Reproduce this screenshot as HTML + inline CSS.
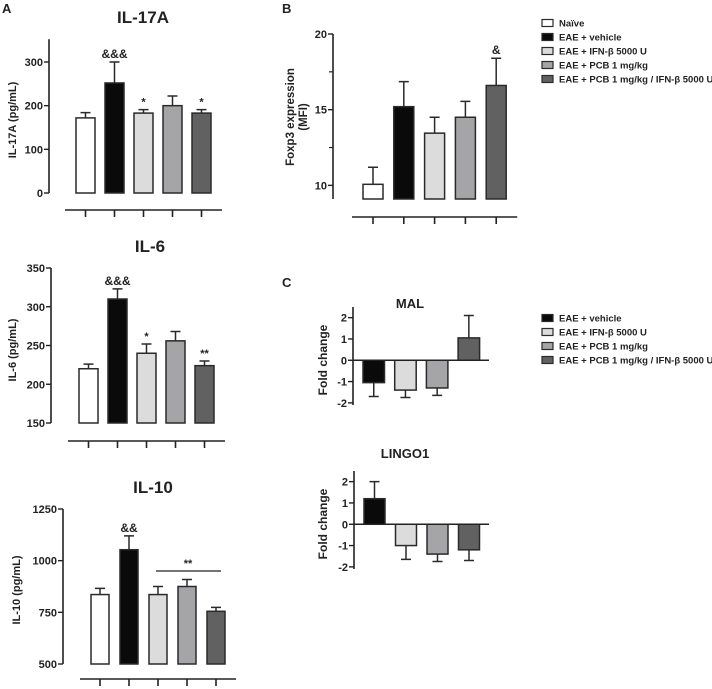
<!DOCTYPE html>
<html><head><meta charset="utf-8">
<style>
html,body{margin:0;padding:0;background:#fff;}
svg{display:block;font-family:"Liberation Sans",Arial,sans-serif;}
.t{font-weight:bold;fill:#222;}
</style></head>
<body>
<svg id="fig" width="712" height="689" viewBox="0 0 712 689" xmlns="http://www.w3.org/2000/svg">
<text class="t" x="2" y="13" font-size="13">A</text>
<text class="t" x="282" y="13" font-size="13">B</text>
<text class="t" x="282" y="287" font-size="13">C</text>
</svg>
<script>
const colors = ['#ffffff','#0a0a0a','#dcdcdc','#a5a5a7','#606160'];
const legendB = ['Naïve','EAE + vehicle','EAE + IFN-β 5000 U','EAE + PCB 1 mg/kg','EAE + PCB 1 mg/kg / IFN-β 5000 U'];
const legendC = ['EAE + vehicle','EAE + IFN-β 5000 U','EAE + PCB 1 mg/kg','EAE + PCB 1 mg/kg / IFN-β 5000 U'];

const il17Values = [172, 252, 183, 200, 183];
const il17Errors = [12, 48, 8, 22, 8];
const il17Ticks = [0, 100, 200, 300];
const il17Marks = ['', '&&&', '*', '', '*'];

const il6Values = [220, 310, 240, 256, 224];
const il6Errors = [6, 13, 12, 12, 6];
const il6Ticks = [150, 200, 250, 300, 350];
const il6Marks = ['', '&&&', '*', '', '**'];

const il10Values = [836, 1053, 836, 875, 755];
const il10Errors = [30, 67, 39, 34, 19];
const il10Ticks = [500, 750, 1000, 1250];
const il10Marks = ['', '&&', '', '', ''];

const foxValues = [10.07, 15.2, 13.45, 14.5, 16.6];
const foxErrors = [1.13, 1.65, 1.05, 1.05, 1.8];
const foxTicks = [10, 15, 20];
const foxMarks = ['', '', '', '', '&'];

const malValues = [-1.05, -1.4, -1.3, 1.05];
const malErrors = [0.65, 0.35, 0.35, 1.05];
const lingoValues = [1.2, -1.0, -1.4, -1.2];
const lingoErrors = [0.8, 0.65, 0.35, 0.5];
const foldTicks = [-2, -1, 0, 1, 2];

const svg = document.getElementById('fig');
const NS = 'http://www.w3.org/2000/svg';
function mk(tag, attrs, parent) {
  const e = document.createElementNS(NS, tag);
  for (const k in attrs) e.setAttribute(k, attrs[k]);
  (parent || svg).appendChild(e);
  return e;
}

function panel(p) {
  const g = mk('g', {});
  
  
  const y = v => p.y0 + (v - p.min) / (p.max - p.min) * (p.y1 - p.y0);
  const base = p.baseline !== undefined ? p.baseline : p.min;
  // title
  const title = mk('text', {x: p.titleX, y: p.titleY, 'font-size': p.titleSize, 'text-anchor': 'middle', class: 't'}, g);
  title.textContent = p.title;
  
  
  // y axis
  const ax = mk('line', {x1: p.ax, x2: p.ax, y1: y(p.axTop), y2: y(p.min), stroke: '#222', 'stroke-width': 1.6}, g);
  
  
  p.ticks.forEach(t => {
    mk('line', {x1: p.ax - 5, x2: p.ax, y1: y(t), y2: y(t), stroke: '#222', 'stroke-width': 1.4}, g);
    const tl = mk('text', {x: p.ax - 6, y: y(t) + 4, 'font-size': 11, 'text-anchor': 'end', class: 't'}, g);
    tl.textContent = t;
    
    
  });
  (p.minor || []).forEach(t => mk('line', {x1: p.ax - 4, x2: p.ax, y1: y(t), y2: y(t), stroke: '#222', 'stroke-width': 1.2}, g));
  // y title
  const yt = mk('text', {transform: `translate(${p.ytX},${p.ytY}) rotate(-90)`, 'font-size': p.ytSize || 11, 'text-anchor': 'middle', class: 't'}, g);
  p.yTitle.forEach((line, i) => {
    const ts = mk('tspan', {x: 0, dy: i === 0 ? 0 : 13}, yt);
    ts.textContent = line;
  });
  
  
  // bars
  p.values.forEach((v, i) => {
    const x = p.bx + i * p.pitch;
    const cx = x + p.bw / 2;
    const top = Math.min(y(v), y(base)), h = Math.abs(y(v) - y(base));
    const r = mk('rect', {x: x, y: top, width: p.bw, height: h, fill: colors[i + p.colorOff], stroke: '#2a2a2a', 'stroke-width': 1.5}, g);
    
    
    const sign = v >= base ? 1 : -1;
    const ee = v + sign * p.errors[i];
    const el = mk('path', {d: `M${cx},${y(v)}L${cx},${y(ee)}M${cx - 5},${y(ee)}L${cx + 5},${y(ee)}`, stroke: '#2a2a2a', 'stroke-width': 1.5, fill: 'none'}, g);
    
    
    if (p.marks && p.marks[i]) {
      const m = mk('text', {x: cx, y: y(ee) - 4, 'font-size': p.marks[i].includes('&') ? 12 : 11, 'text-anchor': 'middle', class: 't'}, g);
      m.textContent = p.marks[i];
      
      
    }
  });
  // category axis
  if (p.catY !== undefined) {
    const n = p.values.length;
    const cl = mk('line', {x1: p.bx - 11, x2: p.bx + (n - 1) * p.pitch + p.bw + 11, y1: p.catY, y2: p.catY, stroke: '#222', 'stroke-width': 1.6}, g);
    
    
    p.values.forEach((v, i) => {
      const cx = p.bx + i * p.pitch + p.bw / 2;
      mk('line', {x1: cx, x2: cx, y1: p.catY, y2: p.catY + 7, stroke: '#222', 'stroke-width': 1.6}, g);
    });
  }
  if (p.zeroLine) {
    const zl = mk('line', {x1: p.ax, x2: p.zeroEnd, y1: y(0), y2: y(0), stroke: '#222', 'stroke-width': 1.6}, g);
    
    
  }
  return y;
}

panel({name:'il17a', title:'IL-17A', titleX:143, titleY:23, titleSize:17, values:il17Values, errors:il17Errors, ticks:il17Ticks, marks:il17Marks,
  min:0, max:300, y0:193, y1:62, axTop:352, ax:49, bx:76, bw:19, pitch:29, catY:210, colorOff:0,
  yTitle:['IL-17A (pg/mL)'], ytX:16, ytY:120});
panel({name:'il6', title:'IL-6', titleX:150, titleY:252, titleSize:17, values:il6Values, errors:il6Errors, ticks:il6Ticks, marks:il6Marks,
  min:150, max:350, y0:423, y1:268, axTop:350, ax:51, bx:79, bw:19, pitch:29, catY:441, colorOff:0,
  yTitle:['IL-6 (pg/mL)'], ytX:16, ytY:350});
const y10 = panel({name:'il10', title:'IL-10', titleX:153, titleY:493, titleSize:17, values:il10Values, errors:il10Errors, ticks:il10Ticks, marks:il10Marks,
  min:500, max:1250, y0:664, y1:509, axTop:1250, ax:63, bx:91, bw:18, pitch:29, catY:679, colorOff:0,
  yTitle:['IL-10 (pg/mL)'], ytX:20, ytY:590});
const sig = mk('line', {x1:156, x2:221, y1:571, y2:571, stroke:'#222', 'stroke-width':1.2});


const sigt = mk('text', {x:188, y:567, 'font-size':11, 'text-anchor':'middle', class:'t'});
sigt.textContent = '**';



panel({name:'foxp3', title:'', titleX:0, titleY:0, titleSize:1, values:foxValues, errors:foxErrors, ticks:foxTicks, marks:foxMarks, minor:[12.5,17.5],
  min:9.1, max:20, y0:199, y1:34, axTop:20, baseline:9.1, ax:333, bx:363, bw:20, pitch:30.8, catY:217, colorOff:0,
  yTitle:['Foxp3 expression','(MFI)'], ytX:294, ytY:117, ytSize:11.5});

panel({name:'mal', title:'MAL', titleX:410, titleY:308, titleSize:13, values:malValues, errors:malErrors, ticks:foldTicks,
  min:-2.1, max:2.5, y0:405, y1:307, axTop:2.5, baseline:0, ax:353, bx:363, bw:21.5, pitch:31.7, colorOff:1, zeroLine:true, zeroEnd:489,
  yTitle:['Fold change'], ytX:327, ytY:360, ytSize:12});
panel({name:'lingo1', title:'LINGO1', titleX:405, titleY:458, titleSize:13, values:lingoValues, errors:lingoErrors, ticks:foldTicks,
  min:-2.1, max:2.5, y0:569, y1:471, axTop:2.5, baseline:0, ax:354, bx:364, bw:21, pitch:31.5, colorOff:1, zeroLine:true, zeroEnd:489,
  yTitle:['Fold change'], ytX:327, ytY:524, ytSize:12});

function legend(items, off, x, y0, dy, name) {
  const g = mk('g', {});
  
  
  items.forEach((lab, i) => {
    const yy = y0 + i * dy;
    const e = mk('g', {}, g);
    
    
    mk('rect', {x: x, y: yy - 3.5, width: 11, height: 7, fill: colors[i + off], stroke: '#2a2a2a', 'stroke-width': 1.2}, e);
    const t = mk('text', {x: x + 17, y: yy + 3.5, 'font-size': 9.5, class: 't', fill: '#333'}, e);
    t.textContent = lab;
  });
}
legend(legendB, 0, 542, 23, 14, 'legend-b');
legend(legendC, 1, 542, 318, 14, 'legend-c');
</script>
</body></html>
